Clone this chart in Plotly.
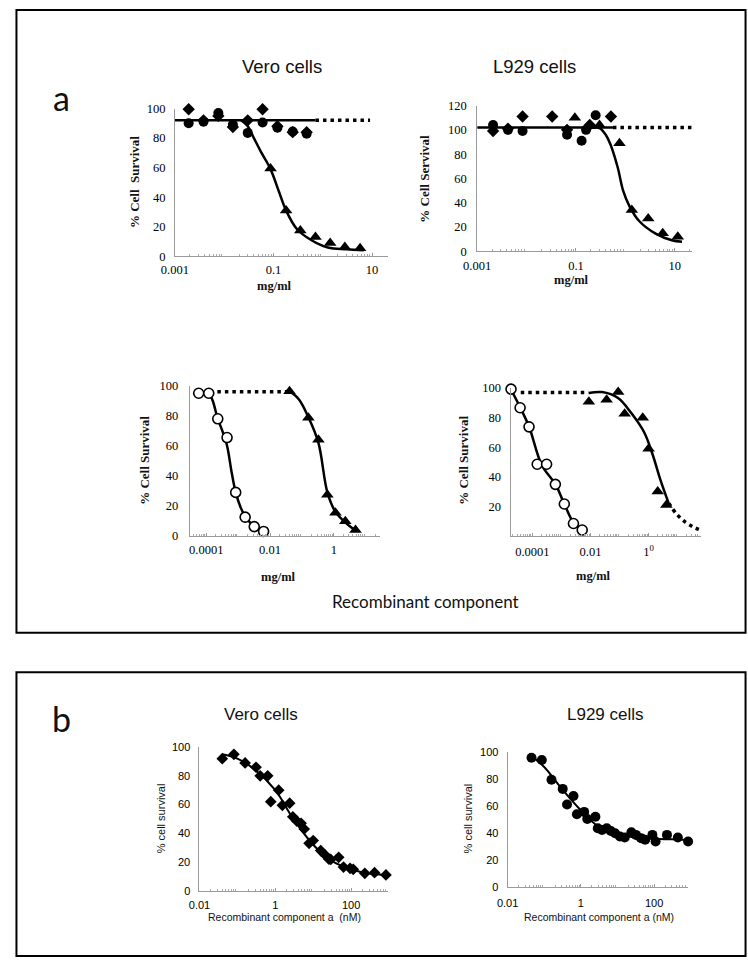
import plotly.graph_objects as go

# ---------------- data ----------------
# Panel a, top-left: Vero cells, mg/ml
tl_diamond_x = [0.0019, 0.0038, 0.0076, 0.015, 0.03, 0.06, 0.12, 0.245, 0.47]
tl_diamond_y = [99.5, 92, 95, 87.5, 92, 99.5, 88, 84, 84]
tl_circle_x = [0.0019, 0.0038, 0.0076, 0.015, 0.03, 0.06, 0.12, 0.245, 0.47]
tl_circle_y = [90, 91, 97, 89, 83.5, 90.5, 87, 84.5, 83]
tl_tri_x = [0.087, 0.18, 0.35, 0.71, 1.41, 2.8, 5.7]
tl_tri_y = [59.5, 31, 17.5, 13, 9, 6.4, 5.5]
tl_fit_x = [0.022, 0.03, 0.04, 0.055, 0.087, 0.128, 0.18, 0.295, 0.59, 1.27, 3, 6.8]
tl_fit_y = [92, 88, 80, 71, 59, 44, 31, 18.7, 10.9, 6, 4.8, 4.2]
tl_flat_x = [0.001, 0.71]
tl_flat_y = [92, 92]
tl_dot_x = [0.71, 9.1]
tl_dot_y = [92, 92]

# Panel a, top-right: L929 cells, mg/ml
tr_diamond_x = [0.0021, 0.0042, 0.0083, 0.033, 0.066, 0.19, 0.51]
tr_diamond_y = [99, 101, 111, 111, 100, 104, 111]
tr_circle_x = [0.0021, 0.0042, 0.0083, 0.066, 0.13, 0.16, 0.25]
tr_circle_y = [104, 100, 99, 96, 91, 100, 112]
tr_tri_x = [0.095, 0.19, 0.3, 0.76, 1.35, 2.9, 5.7, 11.5]
tr_tri_y = [110, 103, 104, 89, 34, 27, 15, 12]
tr_fit_x = [0.2, 0.3, 0.4, 0.5, 0.7, 0.9, 1.2, 1.9, 4.1, 8.7, 14]
tr_fit_y = [102, 101.5, 96, 88, 69, 50, 37.5, 25, 14.6, 9.2, 8]
tr_flat_x = [0.001, 0.56]
tr_flat_y = [102, 102]
tr_dot_x = [0.56, 22]
tr_dot_y = [102, 102]

# Panel a, bottom-left: Vero cells, recombinant component
bl_circle_x = [5.8e-5, 1.2e-4, 2.3e-4, 4.5e-4, 8.4e-4, 1.66e-3, 3.2e-3, 6.3e-3]
bl_circle_y = [95, 95, 78, 65.5, 29, 12.5, 6.2, 3]
bl_tri_x = [0.041, 0.16, 0.33, 0.63, 1.13, 2.3, 4.8]
bl_tri_y = [96.3, 78.7, 64, 27.4, 15.4, 9.8, 3.9]
bl_cfit_x = [1.2e-4, 1.6e-4, 2.3e-4, 3.2e-4, 4.5e-4, 6.3e-4, 8.4e-4, 1.2e-3, 1.66e-3, 3.2e-3, 6.3e-3]
bl_cfit_y = [96, 90, 78, 70, 60, 42, 29, 19, 13, 6.5, 3]
bl_tfit_x = [0.041, 0.08, 0.16, 0.33, 0.63, 1.13, 2.3, 4.8]
bl_tfit_y = [96.3, 91, 79, 62, 29, 16, 9, 3.5]
bl_dot_x = [1.3e-4, 0.035]
bl_dot_y = [96, 96]

# Panel a, bottom-right: L929 cells, recombinant component
br_circle_x = [1.85e-5, 3.8e-5, 7.7e-5, 1.47e-4, 3.1e-4, 6.2e-4, 1.26e-3, 2.6e-3, 5.2e-3]
br_circle_y = [99.3, 86.7, 73.8, 48.5, 48.5, 34.9, 21.6, 8.4, 4]
br_tri_x = [8.8e-3, 0.036, 0.09, 0.15, 0.63, 1.0, 2.06, 4.1]
br_tri_y = [90.7, 92.2, 97.3, 82.7, 80, 59, 30, 21]
br_cfit_x = [1.85e-5, 3.8e-5, 7.7e-5, 2.1e-4, 6.2e-4, 1.26e-3, 2.6e-3, 5.2e-3]
br_cfit_y = [99, 87, 74, 48, 35, 21.6, 9, 3.5]
br_tfit_x = [0.0087, 0.025, 0.089, 0.25, 0.71, 1.35, 2.57, 4.9]
br_tfit_y = [96.7, 97.3, 93.3, 83.3, 70, 55.6, 37.8, 22.2]
br_tail_x = [4.9, 9, 18, 35, 60]
br_tail_y = [22.2, 15, 9.5, 6, 4]
br_dot_x = [4e-5, 0.0085]
br_dot_y = [97, 97]

# Panel b, left: Vero cells, nM
bl2_x = [0.04, 0.081, 0.16, 0.31, 0.40, 0.63, 0.76, 1.23, 1.54, 2.4, 2.9, 3.7, 4.8, 5.8,
         7.8, 10, 15.8, 21, 26, 29, 47, 63, 94, 114, 230, 415, 830]
bl2_y = [92, 95, 89, 86, 80, 80, 62, 70, 59.5, 61, 51.5, 48.5, 47, 43,
         33, 35, 28, 24.7, 22, 21.8, 23.3, 16.5, 15.6, 14.9, 12.1, 12.6, 11]
bl2_fit_x = [0.04, 0.1, 0.3, 1, 3, 10, 30, 100, 300, 930]
bl2_fit_y = [95, 92, 84, 70, 50, 32, 21, 15, 12, 11]

# Panel b, right: L929 cells, nM
br2_x = [0.045, 0.086, 0.158, 0.32, 0.42, 0.63, 0.78, 1.23, 1.5, 2.5, 2.9, 3.8, 5.1, 6.6,
         8.6, 11.7, 15.8, 24, 32, 44, 57, 90, 110, 225, 445, 850]
br2_y = [95.8, 94.2, 79.6, 72.8, 61.2, 67.5, 54.1, 55.8, 50.5, 52.2, 43.7, 42.5, 43.7, 41.7,
         40, 37.6, 36.9, 40.8, 38.8, 36.4, 35.2, 38.8, 33.9, 38.8, 36.9, 33.9]
br2_fit_x = [0.045, 0.1, 0.3, 1, 3, 10, 30, 100, 300, 850]
br2_fit_y = [97, 89, 73, 57, 45, 39.5, 37, 36, 35.5, 35]

# tick labels
tl_xticks = [0.001, 0.1, 10]
tl_xtext = ["0.001", "0.1", "10"]
bla_xticks = [0.0001, 0.01, 1]
bla_xtext = ["0.0001", "0.01", "1"]
bra_xtext = ["0.0001", "0.01", "1<sup>0</sup>"]
b_xticks = [0.01, 1, 100]
b_xtext = ["0.01", "1", "100"]

# ---------------- layout helpers ----------------
W, H = 748, 968
SERIF = "Liberation Serif"
SANS = "Liberation Sans"
LABEL = "Lato"


def fx(p):
    return p / W


def fy(p):
    return 1 - p / H


def minor_vals(lo, hi):
    vals = []
    for k in range(lo, hi + 1):
        for m in range(2, 10):
            vals.append(m * 10 ** k)
    return vals


fig = go.Figure()

panels = [
    dict(xd=(164, 381), xr=(-3, 1.32), yd=(103, 253), yr=(0, 100), xt=tl_xticks, xs=tl_xtext,
         yt=[0, 20, 40, 60, 80, 100], fam=SERIF, fs=12.5, mn=(-3, 1), xso=2, yso=6),
    dict(xd=(472, 691), xr=(-3, 1.35), yd=(100, 248), yr=(0, 120), xt=tl_xticks, xs=tl_xtext,
         yt=[0, 20, 40, 60, 80, 100, 120], fam=SERIF, fs=12.5, mn=(-3, 1), xso=3, yso=7),
    dict(xd=(179, 373), xr=(-4.52, 1.45), yd=(384.3, 536.7), yr=(0, 100), xt=bla_xticks, xs=bla_xtext,
         yt=[0, 20, 40, 60, 80, 100], fam=SERIF, fs=12.5, mn=(-5, 1), xso=2, yso=8),
    dict(xd=(506, 700), xr=(-4.75, 1.8), yd=(386.7, 536.7), yr=(0, 100), xt=bla_xticks, xs=bra_xtext,
         yt=[20, 40, 60, 80, 100], fam=SERIF, fs=12.5, mn=(-5, 1), xso=4, yso=6),
    dict(xd=(189, 381), xr=(-2, 2.97), yd=(751, 896.7), yr=(0, 100), xt=b_xticks, xs=b_xtext,
         yt=[0, 20, 40, 60, 80, 100], fam=SANS, fs=11, mn=(-2, 2), xso=4, yso=6),
    dict(xd=(503, 687), xr=(-2, 2.93), yd=(756, 893.3), yr=(0, 100), xt=b_xticks, xs=b_xtext,
         yt=[0, 20, 40, 60, 80, 100], fam=SANS, fs=11, mn=(-2, 2), xso=5, yso=6),
]

layout_axes = {}
for i, p in enumerate(panels, start=1):
    sx = "" if i == 1 else str(i)
    layout_axes["xaxis" + sx] = dict(
        type="log", domain=[fx(p["xd"][0]), fx(p["xd"][1])], range=list(p["xr"]),
        anchor="y" + sx, showline=True, linecolor="#9a9a9a", linewidth=1,
        showgrid=False, zeroline=False, tickmode="array", tickvals=p["xt"], ticktext=p["xs"],
        ticks="inside", ticklen=3, tickcolor="#9a9a9a", ticklabelstandoff=p["xso"],
        tickfont=dict(family=p["fam"], size=p["fs"], color="black"),
        minor=dict(tickmode="array", tickvals=minor_vals(*p["mn"]), ticks="inside",
                   ticklen=2, tickcolor="#aaaaaa", showgrid=False),
        fixedrange=True,
    )
    layout_axes["yaxis" + sx] = dict(
        domain=[fy(p["yd"][1]), fy(p["yd"][0])], range=list(p["yr"]),
        anchor="x" + sx, showline=True, linecolor="#9a9a9a", linewidth=1,
        showgrid=False, zeroline=False, tickmode="array", tickvals=p["yt"],
        ticks="", ticklabelstandoff=p["yso"],
        tickfont=dict(family=p["fam"], size=p["fs"], color="black"),
        fixedrange=True,
    )


def add(x, y, ax, mode="markers", symbol=None, size=9, fill="black", dash=None, width=2.5,
        shape="spline"):
    sx = "" if ax == 1 else str(ax)
    if mode == "markers":
        fig.add_trace(go.Scatter(
            x=x, y=y, mode="markers", xaxis="x" + sx, yaxis="y" + sx, cliponaxis=False,
            marker=dict(symbol=symbol, size=size, color=fill,
                        line=dict(color="black", width=1.6 if fill == "white" else 0)),
            showlegend=False, hoverinfo="skip"))
    else:
        fig.add_trace(go.Scatter(
            x=x, y=y, mode="lines", xaxis="x" + sx, yaxis="y" + sx, cliponaxis=False,
            line=dict(color="black", width=width, dash=dash, shape=shape, smoothing=1.0),
            showlegend=False, hoverinfo="skip"))


DOT = "3.5px,4px"

# --- a: top-left
add(tl_flat_x, tl_flat_y, 1, mode="lines", shape="linear")
add(tl_dot_x, tl_dot_y, 1, mode="lines", dash=DOT, width=3.5, shape="linear")
add(tl_fit_x, tl_fit_y, 1, mode="lines")
add(tl_circle_x, tl_circle_y, 1, symbol="circle", size=10)
add(tl_diamond_x, tl_diamond_y, 1, symbol="diamond", size=9.5)
add(tl_tri_x, tl_tri_y, 1, symbol="triangle-up", size=11)

# --- a: top-right
add(tr_flat_x, tr_flat_y, 2, mode="lines", shape="linear")
add(tr_dot_x, tr_dot_y, 2, mode="lines", dash=DOT, width=3.5, shape="linear")
add(tr_fit_x, tr_fit_y, 2, mode="lines")
add(tr_circle_x, tr_circle_y, 2, symbol="circle", size=10)
add(tr_diamond_x, tr_diamond_y, 2, symbol="diamond", size=9.5)
add(tr_tri_x, tr_tri_y, 2, symbol="triangle-up", size=11)

# --- a: bottom-left
add(bl_dot_x, bl_dot_y, 3, mode="lines", dash=DOT, width=3.5, shape="linear")
add(bl_cfit_x, bl_cfit_y, 3, mode="lines")
add(bl_tfit_x, bl_tfit_y, 3, mode="lines")
add(bl_circle_x, bl_circle_y, 3, symbol="circle", size=10, fill="white")
add(bl_tri_x, bl_tri_y, 3, symbol="triangle-up", size=11)

# --- a: bottom-right
add(br_dot_x, br_dot_y, 4, mode="lines", dash=DOT, width=3.5, shape="linear")
add(br_cfit_x, br_cfit_y, 4, mode="lines")
add(br_tfit_x, br_tfit_y, 4, mode="lines")
add(br_tail_x, br_tail_y, 4, mode="lines", dash=DOT, width=3.5)
add(br_circle_x, br_circle_y, 4, symbol="circle", size=10, fill="white")
add(br_tri_x, br_tri_y, 4, symbol="triangle-up", size=11)

# --- b: left
add(bl2_fit_x, bl2_fit_y, 5, mode="lines", width=2)
add(bl2_x, bl2_y, 5, symbol="diamond", size=9)

# --- b: right
add(br2_fit_x, br2_fit_y, 6, mode="lines", width=2)
add(br2_x, br2_y, 6, symbol="circle", size=10)

# ---------------- text ----------------
ann = []


def text(s, x, y, fam, size, bold=False, angle=0, color="#111"):
    ann.append(dict(text=("<b>%s</b>" % s) if bold else s, x=fx(x), y=fy(y), xref="paper",
                    yref="paper", showarrow=False, textangle=angle, xanchor="center",
                    yanchor="middle", font=dict(family=fam, size=size, color=color)))


text("a", 48, 92, LABEL, 34)
text("b", 48, 722, LABEL, 34)
text("Vero cells", 273, 60, SANS, 18.5)
text("L929 cells", 530, 60, SANS, 18.5)
text("% Cell  Survival", 123, 178, SERIF, 13, bold=True, angle=-90)
text("% Cell Servival", 418, 174, SERIF, 13, bold=True, angle=-90)
text("% Cell Survival", 133, 460, SERIF, 13, bold=True, angle=-90)
text("% Cell Survival", 458, 460, SERIF, 13, bold=True, angle=-90)
text("mg/ml", 265, 283, SERIF, 12.5, bold=True)
text("mg/ml", 568, 277, SERIF, 12.5, bold=True)
text("mg/ml", 270, 578, SERIF, 12.5, bold=True)
text("mg/ml", 591, 577, SERIF, 12.5, bold=True)
text("Recombinant component", 419, 603, LABEL, 17)
text("Vero cells", 252, 718, SANS, 17)
text("L929 cells", 603, 718, SANS, 17)
text("% cell survival", 150, 823, SANS, 11, angle=-90)
text("% cell survival", 463, 823, SANS, 11, angle=-90)
text("Recombinant component a  (nM)", 276, 923, SANS, 10.5)
text("Recombinant component a (nM)", 596, 923, SANS, 10.5)

shapes = [
    dict(type="rect", xref="paper", yref="paper", x0=fx(2.5), x1=fx(745.5), y0=fy(635), y1=fy(3),
         line=dict(color="black", width=2)),
    dict(type="rect", xref="paper", yref="paper", x0=fx(2.5), x1=fx(745.5), y0=fy(963), y1=fy(675),
         line=dict(color="black", width=2)),
]

fig.update_layout(
    width=W, height=H, margin=dict(l=0, r=0, t=0, b=0),
    paper_bgcolor="white", plot_bgcolor="white", showlegend=False,
    annotations=ann, shapes=shapes, **layout_axes,
)

fig.write_html("out.html", config={"displayModeBar": False},
               post_script="document.body.style.margin='0';document.body.style.overflow='hidden';")
